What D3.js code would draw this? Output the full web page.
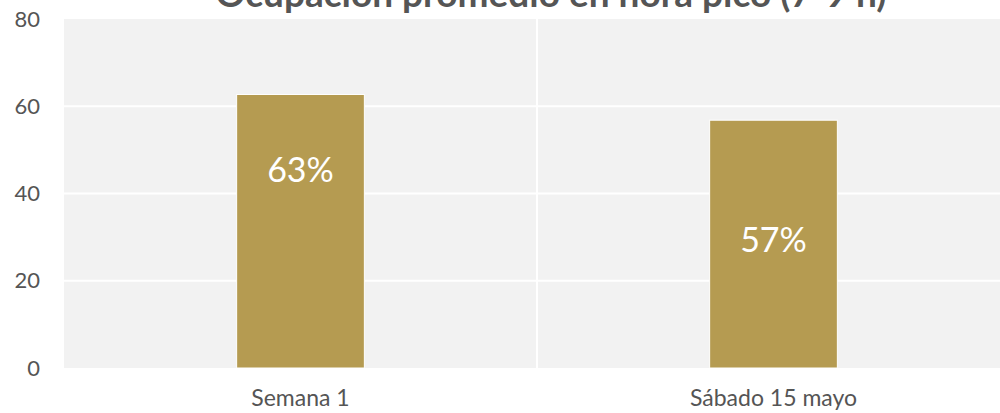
<!DOCTYPE html>
<html>
<head>
<meta charset="utf-8">
<script src="https://cdn.jsdelivr.net/npm/d3@7"></script>
<style>
  html, body { margin: 0; padding: 0; background: #fff; }
  svg { display: block; }
  svg text { font-family: "Source Sans Pro", Lato, sans-serif; }
</style>
</head>
<body>
<svg id="chart" width="1000" height="413"></svg>
<script>
var categories = ["Semana 1", "Sábado 15 mayo"];
var values = [62.7, 56.8];
var labels = ["63%", "57%"];
var labelAt = [45.4, 29.4];   // where the value labels sit, in axis units
var yTicks = [0, 20, 40, 60, 80];
var title = "Ocupación promedio en hora pico (7-9 h)";

(function(){
var svg = d3.select("#chart");
var m = {left: 64, right: 1010, top: 19, bottom: 368};

var x = d3.scaleBand().domain(categories).range([m.left, m.right])
    .paddingInner(0.73).paddingOuter(0.365);
var y = d3.scaleLinear().domain([0, 80]).range([m.bottom, m.top]);

// plot background
svg.append("rect").attr("x", m.left).attr("y", m.top)
    .attr("width", m.right - m.left).attr("height", m.bottom - m.top)
    .attr("fill", "#f2f2f2");

// grid
svg.append("g").selectAll("line").data(yTicks.slice(1, -1)).join("line")
    .attr("x1", m.left).attr("x2", m.right)
    .attr("y1", function(d){ return y(d); }).attr("y2", function(d){ return y(d); })
    .attr("stroke", "#fff").attr("stroke-width", 2);

var step = x.step();
svg.append("g").selectAll("line").data(categories.slice(1)).join("line")
    .attr("x1", function(d){ return x(d) + x.bandwidth()/2 - step/2; })
    .attr("x2", function(d){ return x(d) + x.bandwidth()/2 - step/2; })
    .attr("y1", m.top).attr("y2", m.bottom)
    .attr("stroke", "#fff").attr("stroke-width", 2);

// bars
svg.append("g").selectAll("rect").data(values).join("rect")
    .attr("x", function(d, i){ return x(categories[i]); })
    .attr("y", function(d){ return y(d); })
    .attr("width", x.bandwidth())
    .attr("height", function(d){ return y(0) - y(d); })
    .attr("fill", "#b59b51")
    .attr("stroke", "#fff").attr("stroke-width", 1);

// value labels
svg.append("g").selectAll("text").data(labels).join("text")
    .attr("x", function(d, i){ return x(categories[i]) + x.bandwidth()/2; })
    .attr("y", function(d, i){ return y(labelAt[i]); })
    .attr("dy", "0.35em")
    .attr("text-anchor", "middle")
    .attr("fill", "#fff")
    .attr("font-size", 34)
    .text(function(d){ return d; });

// y axis
var yAxis = svg.append("g").attr("transform", "translate(" + m.left + ",0)")
    .call(d3.axisLeft(y).tickValues(yTicks).tickSize(0).tickPadding(24));
yAxis.select(".domain").remove();
yAxis.selectAll("text").attr("font-size", 22).attr("fill", "#555");

// x axis
var xAxis = svg.append("g").attr("transform", "translate(0," + m.bottom + ")")
    .call(d3.axisBottom(x).tickSize(0).tickPadding(22));
xAxis.select(".domain").remove();
xAxis.selectAll("text").attr("font-size", 23).attr("fill", "#555");

// title (clipped at top, as in the original)
svg.append("text")
    .attr("x", 551).attr("y", 7)
    .attr("text-anchor", "middle")
    .attr("font-size", 37).attr("font-weight", "bold")
    .attr("fill", "#555")
    .text(title);
})();
</script>
</body>
</html>
